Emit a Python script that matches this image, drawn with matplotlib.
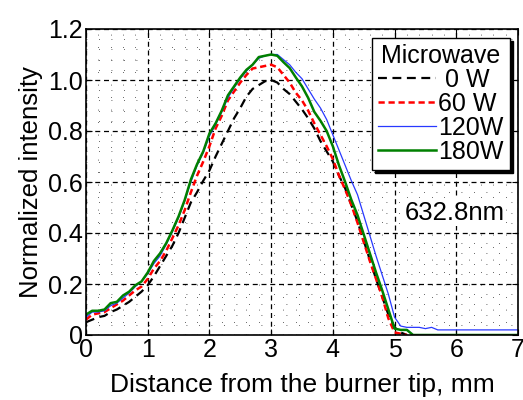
import matplotlib.pyplot as plt
import numpy as np
from matplotlib.ticker import MultipleLocator

plt.rcParams["font.family"] = ["Liberation Sans", "DejaVu Sans"]

# distance from the burner tip, mm (0.1 mm sampling)
dist = np.round(np.arange(0, 5.35, 0.1), 1)

int_0w = [0.05, 0.06, 0.07, 0.075, 0.09, 0.10, 0.115, 0.13, 0.15, 0.17,
          0.195, 0.23, 0.27, 0.31, 0.35, 0.40, 0.46, 0.52, 0.56, 0.605,
          0.645, 0.70, 0.75, 0.80, 0.85, 0.89, 0.935, 0.965, 0.98, 0.995,
          1.0, 0.99, 0.965, 0.945, 0.915, 0.885, 0.85, 0.81, 0.76, 0.72,
          0.68, 0.625, 0.575, 0.51, 0.445, 0.37, 0.295, 0.22, 0.15, 0.08,
          0.03, 0.01, 0.0]
int_60w = [0.06, 0.08, 0.085, 0.09, 0.105, 0.12, 0.135, 0.155, 0.175, 0.19,
           0.22, 0.26, 0.29, 0.33, 0.38, 0.43, 0.49, 0.56, 0.625, 0.68,
           0.74, 0.81, 0.86, 0.92, 0.955, 0.99, 1.02, 1.045, 1.05, 1.055,
           1.06, 1.05, 1.02, 0.99, 0.95, 0.92, 0.88, 0.83, 0.785, 0.74,
           0.69, 0.625, 0.57, 0.51, 0.44, 0.365, 0.29, 0.22, 0.15, 0.065,
           0.01, 0.005, 0.0]
int_120w = [0.07, 0.09, 0.09, 0.095, 0.115, 0.125, 0.145, 0.165, 0.19, 0.21,
            0.24, 0.28, 0.31, 0.355, 0.405, 0.46, 0.525, 0.60, 0.665, 0.715,
            0.78, 0.825, 0.875, 0.93, 0.97, 1.005, 1.035, 1.06, 1.085, 1.095,
            1.10, 1.10, 1.08, 1.06, 1.03, 1.005, 0.965, 0.925, 0.89, 0.845,
            0.785, 0.725, 0.665, 0.605, 0.55, 0.47, 0.39, 0.31, 0.235, 0.16,
            0.07, 0.035, 0.03, 0.03]
int_180w = [0.08, 0.095, 0.095, 0.10, 0.125, 0.13, 0.155, 0.17, 0.195, 0.21,
            0.245, 0.29, 0.32, 0.36, 0.41, 0.465, 0.53, 0.61, 0.67, 0.72,
            0.79, 0.83, 0.88, 0.94, 0.975, 1.01, 1.04, 1.06, 1.09, 1.095,
            1.10, 1.095, 1.07, 1.047, 1.01, 0.975, 0.93, 0.875, 0.84, 0.80,
            0.74, 0.665, 0.60, 0.53, 0.47, 0.395, 0.32, 0.245, 0.175, 0.10,
            0.025, 0.02, 0.02, 0.0]

# flat tails beyond 5.3 mm
tail_dist = [5.4, 5.5, 5.6, 5.7, 6.0, 6.5, 7.0]
tail_120w = [0.03, 0.025, 0.03, 0.02, 0.02, 0.02, 0.02]
tail_180w = [0.0, 0.0, 0.0, 0.0, 0.0, 0.0, 0.0]

fig = plt.figure(figsize=(5.23, 4.0), dpi=100)
ax = fig.add_axes([0.1644, 0.1625, 0.826, 0.765])

ax.plot(dist[:len(int_0w)], int_0w, color="black", lw=1.6,
        dashes=(4, 2.5), label=" 0 W")
ax.plot(dist[:len(int_60w)], int_60w, color="red", lw=1.8,
        dashes=(2.5, 1.5), label="60 W")
ax.plot(list(dist[:len(int_120w)]) + tail_dist, int_120w + tail_120w,
        color="#2838ff", lw=0.9, label="120W")
ax.plot(list(dist[:len(int_180w)]) + tail_dist, int_180w + tail_180w,
        color="green", lw=1.8, label="180W")

ax.set_xlim(0, 7)
ax.set_ylim(0, 1.2)
ax.xaxis.set_major_locator(MultipleLocator(1))
ax.xaxis.set_minor_locator(MultipleLocator(0.2))
ax.yaxis.set_minor_locator(MultipleLocator(0.04))
ax.set_yticks([0, 0.2, 0.4, 0.6, 0.8, 1.0, 1.2],
              ["0", "0.2", "0.4", "0.6", "0.8", "1.0", "1.2"])

ax.grid(which="major", color="black", lw=0.9, linestyle=(0, (4, 3)))
ax.grid(which="minor", color="#333333", lw=0.6, linestyle=(0, (1, 14)))
ax.tick_params(which="major", direction="in", top=True, right=True,
               labelsize=18, length=4, pad=2)
ax.tick_params(which="minor", length=0)
for sp in ax.spines.values():
    sp.set_linewidth(1.2)

ax.set_xlabel("Distance from the burner tip, mm", fontsize=19, labelpad=8)
ax.set_ylabel("Normalized intensity", fontsize=18.5, labelpad=4)

leg = ax.legend(title="Microwave", loc="upper right",
                bbox_to_anchor=(0.981, 0.971), borderaxespad=0,
                fontsize=18, title_fontsize=18, fancybox=False,
                shadow={"color": "black", "alpha": 1},
                edgecolor="black", framealpha=1, handlelength=2.3,
                handletextpad=0.1, labelspacing=0.0, borderpad=0.25)
leg.get_frame().set_linewidth(1.0)
for t in leg.get_texts():
    t.set_ha("right")

ax.text(0.97, 0.40, "632.8nm", transform=ax.transAxes, fontsize=18.5,
        ha="right", va="center",
        bbox=dict(facecolor="white", edgecolor="none", pad=1))

fig.savefig("out.png", dpi=100)
